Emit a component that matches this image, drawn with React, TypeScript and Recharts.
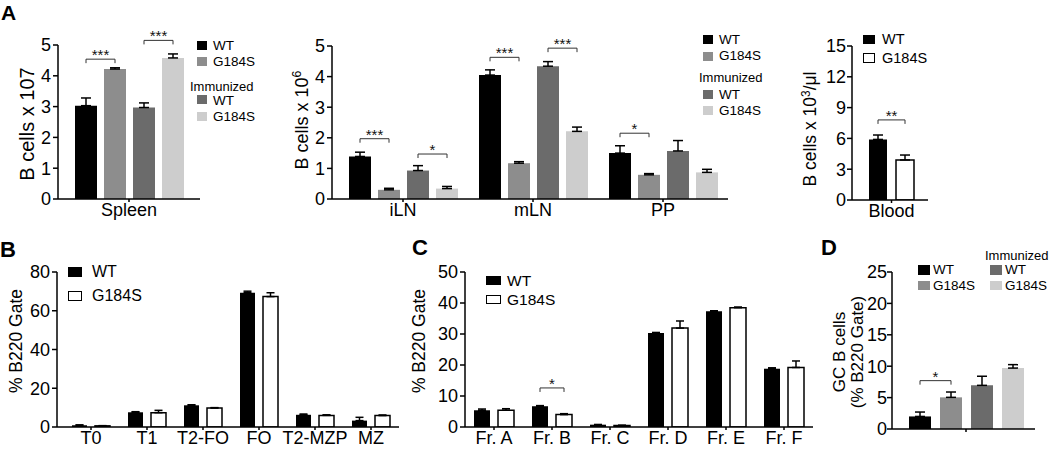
import React from 'react';
import { BarChart, Bar, XAxis, YAxis, ErrorBar, LabelList } from 'recharts';

// ---------- colours ----------
const C_WT = '#000000';
const C_G184S = '#8d8d8d';
const C_IMM_WT = '#6b6b6b';
const C_IMM_G184S = '#cdcdcd';

// ---------- Panel A (Spleen) ----------
const a1Categories = ['Spleen'];
const a1WT = [3.03];
const a1WTErr = [0.25];
const a1G184S = [4.22];
const a1G184SErr = [0.04];
const a1ImmWT = [2.97];
const a1ImmWTErr = [0.15];
const a1ImmG184S = [4.58];
const a1ImmG184SErr = [0.13];
const a1Ticks = [0, 1, 2, 3, 4, 5];
const a1Brackets = [
  { cat: 0, from: 0, to: 1, y: 4.54, text: '***' },
  { cat: 0, from: 2, to: 3, y: 5.15, text: '***' },
];

// ---------- Panel A (lymph nodes) ----------
const a2Categories = ['iLN', 'mLN', 'PP'];
const a2WT = [1.39, 4.05, 1.5];
const a2WTErr = [0.14, 0.17, 0.24];
const a2G184S = [0.3, 1.17, 0.79];
const a2G184SErr = [0.05, 0.05, 0.04];
const a2ImmWT = [0.93, 4.34, 1.57];
const a2ImmWTErr = [0.16, 0.15, 0.34];
const a2ImmG184S = [0.34, 2.21, 0.87];
const a2ImmG184SErr = [0.07, 0.14, 0.1];
const a2Ticks = [0, 1, 2, 3, 4, 5];
const a2Brackets = [
  { cat: 0, from: 0, to: 1, y: 1.97, text: '***' },
  { cat: 0, from: 2, to: 3, y: 1.47, text: '*' },
  { cat: 1, from: 0, to: 1, y: 4.63, text: '***' },
  { cat: 1, from: 2, to: 3, y: 4.93, text: '***' },
  { cat: 2, from: 0, to: 1, y: 2.15, text: '*' },
];

// ---------- Panel A (Blood) ----------
const a3Categories = ['Blood'];
const a3WT = [5.9];
const a3WTErr = [0.43];
const a3G184S = [3.9];
const a3G184SErr = [0.48];
const a3Ticks = [0, 3, 6, 9, 12, 15];
const a3Brackets = [{ cat: 0, from: 0, to: 1, y: 7.8, text: '**' }];

// ---------- Panel B ----------
const bCategories = ['T0', 'T1', 'T2-FO', 'FO', 'T2-MZP', 'MZ'];
const bWT = [0.9, 7.6, 11.2, 69.3, 6.3, 3.3];
const bWTErr = [0.2, 0.3, 0.3, 0.8, 0.4, 1.7];
const bG184S = [0.6, 7.4, 9.8, 67.3, 6.0, 5.9];
const bG184SErr = [0.1, 1.2, 0.2, 2.0, 0.3, 0.3];
const bTicks = [0, 20, 40, 60, 80];

// ---------- Panel C ----------
const cCategories = ['Fr. A', 'Fr. B', 'Fr. C', 'Fr. D', 'Fr. E', 'Fr. F'];
const cWT = [5.4, 6.7, 0.75, 30.3, 37.3, 18.8];
const cWTErr = [0.4, 0.2, 0.05, 0.2, 0.2, 0.3];
const cG184S = [5.4, 4.0, 0.5, 31.9, 38.5, 19.2];
const cG184SErr = [0.5, 0.3, 0.05, 2.3, 0.2, 2.1];
const cTicks = [0, 10, 20, 30, 40, 50];
const cBrackets = [{ cat: 1, from: 0, to: 1, y: 12.6, text: '*' }];

// ---------- Panel D ----------
const dCategories = [''];
const dWT = [2.0];
const dWTErr = [0.7];
const dG184S = [5.04];
const dG184SErr = [0.85];
const dImmWT = [6.95];
const dImmWTErr = [1.45];
const dImmG184S = [9.7];
const dImmG184SErr = [0.55];
const dTicks = [0, 5, 10, 15, 20, 25];
const dBrackets = [{ cat: 0, from: 0, to: 1, y: 7.7, text: '*' }];

const FONT = 'Arial, "Liberation Sans", Helvetica, sans-serif';

type Series = { values: number[]; errs: number[]; fill: string; stroke?: string };
type Bracket = { cat: number; from: number; to: number; y: number; text: string };

function makeBracketRenderer(k: number, brackets: Bracket[], barGap: number) {
  return (p: any) => {
    const vb = p.viewBox || p;
    const idx = p.index;
    const b = brackets.find((br) => br.from === k && br.cat === idx);
    if (!b) return null;
    const x = Number(vb.x);
    const y = Number(vb.y);
    const width = Number(vb.width);
    const height = Number(vb.height);
    const v = Number(p.value);
    const top = Math.min(y, y + height);
    const h = Math.abs(height);
    const zeroY = top + h;
    const yb = zeroY - (h * b.y) / v;
    const x1 = x + width / 2;
    const x2 = x1 + (b.to - b.from) * (width + barGap);
    return (
      <g key={`br-${k}-${idx}`}>
        <path
          d={`M${x1},${yb + 4}L${x1},${yb}L${x2},${yb}L${x2},${yb + 4}`}
          fill="none"
          stroke="#333"
          strokeWidth={1}
        />
        <text x={(x1 + x2) / 2} y={yb + 1} textAnchor="middle" fontSize={15} fill="#111" fontFamily={FONT}>
          {b.text}
        </text>
      </g>
    );
  };
}

function Panel(props: {
  px: number;
  py: number;
  pw: number;
  ph: number;
  categories: string[];
  series: Series[];
  yMax: number;
  ticks: number[];
  barSize: number;
  barGap: number;
  padLeft: number;
  capW: number;
  brackets: Bracket[];
  yTickGap?: number;
}) {
  const { px, py, pw, ph, categories, series, yMax, ticks, barSize, barGap, padLeft, capW, brackets } = props;
  const yTickGap = props.yTickGap ?? 2;
  const YW = 50;
  const T = 30;
  const R = 4;
  const XH = 30;
  const B = 2;
  const data = categories.map((c, i) => {
    const row: any = { name: c };
    series.forEach((s, k) => {
      row['v' + k] = s.values[i];
      row['e' + k] = [0, s.errs[i]];
    });
    return row;
  });
  return (
    <div style={{ position: 'absolute', left: px - YW, top: py - T }}>
      <BarChart
        width={YW + pw + R}
        height={T + ph + XH + B}
        data={data}
        margin={{ top: T, right: R, bottom: B, left: 0 }}
        barGap={barGap}
        barSize={barSize}
        style={{ overflow: 'visible' }}
      >
        <XAxis
          dataKey="name"
          interval={0}
          height={XH}
          tickSize={3}
          tickMargin={1}
          tickLine={{ stroke: '#000', strokeWidth: 1.5 }}
          axisLine={{ stroke: '#000', strokeWidth: 1.5 }}
          tick={{ fill: '#000', fontSize: 18, fontFamily: FONT }}
          padding={{ left: padLeft, right: 0 }}
        />
        <YAxis
          width={YW}
          domain={[0, yMax]}
          ticks={ticks}
          interval={0}
          allowDataOverflow
          tickSize={5}
          tickMargin={yTickGap}
          tickLine={{ stroke: '#000', strokeWidth: 1.5 }}
          axisLine={{ stroke: '#000', strokeWidth: 1.5 }}
          tick={{ fill: '#000', fontSize: 18, fontFamily: FONT }}
        />
        {series.map((s, k) => (
          <Bar
            key={k}
            dataKey={'v' + k}
            fill={s.fill}
            stroke={s.stroke || 'none'}
            strokeWidth={s.stroke ? 1.5 : 0}
            isAnimationActive={false}
          >
            <ErrorBar dataKey={'e' + k} width={capW} stroke="#000" strokeWidth={1.5} direction="y" />
            {brackets.some((b) => b.from === k) ? (
              <LabelList dataKey={'v' + k} content={makeBracketRenderer(k, brackets, barGap)} />
            ) : null}
          </Bar>
        ))}
      </BarChart>
    </div>
  );
}

function Swatch(props: { x: number; y: number; w: number; h: number; fill: string; border?: boolean }) {
  const { x, y, w, h, fill, border } = props;
  return (
    <div
      style={{
        position: 'absolute',
        left: x,
        top: y,
        width: w,
        height: h,
        background: fill,
        boxSizing: 'border-box',
        border: border ? '1.5px solid #000' : 'none',
      }}
    />
  );
}

function Txt(props: { x: number; cy: number; fs: number; children: React.ReactNode; bold?: boolean }) {
  const { x, cy, fs, children, bold } = props;
  return (
    <div
      style={{
        position: 'absolute',
        left: x,
        top: cy - fs / 2,
        fontSize: fs,
        lineHeight: `${fs}px`,
        whiteSpace: 'nowrap',
        fontWeight: bold ? 'bold' : 'normal',
        color: '#000',
      }}
    >
      {children}
    </div>
  );
}

function VLabel(props: { cx: number; cy: number; fs: number; children: React.ReactNode; lh?: number }) {
  const { cx, cy, fs, children, lh } = props;
  return (
    <div
      style={{
        position: 'absolute',
        left: cx,
        top: cy,
        transform: 'translate(-50%, -50%) rotate(-90deg)',
        fontSize: fs,
        lineHeight: `${lh || fs}px`,
        whiteSpace: 'nowrap',
        textAlign: 'center',
        color: '#000',
      }}
    >
      {children}
    </div>
  );
}

const supStyle: React.CSSProperties = { fontSize: '0.68em', verticalAlign: '0.55em', lineHeight: 0 };

export default function App() {
  return (
    <div
      style={{
        position: 'absolute',
        left: 0,
        top: 0,
        width: 1050,
        height: 449,
        background: '#fff',
        fontFamily: FONT,
        overflow: 'hidden',
      }}
    >
      {/* Panel letters */}
      <Txt x={1} cy={12.5} fs={21} bold>A</Txt>
      <Txt x={0} cy={250} fs={22} bold>B</Txt>
      <Txt x={412} cy={248} fs={22} bold>C</Txt>
      <Txt x={821} cy={248} fs={22} bold>D</Txt>

      {/* A: Spleen */}
      <Panel
        px={58}
        py={45}
        pw={142}
        ph={154}
        categories={a1Categories}
        series={[
          { values: a1WT, errs: a1WTErr, fill: C_WT },
          { values: a1G184S, errs: a1G184SErr, fill: C_G184S },
          { values: a1ImmWT, errs: a1ImmWTErr, fill: C_IMM_WT },
          { values: a1ImmG184S, errs: a1ImmG184SErr, fill: C_IMM_G184S },
        ]}
        yMax={5}
        ticks={a1Ticks}
        barSize={22}
        barGap={7}
        padLeft={0}
        capW={5}
        brackets={a1Brackets}
      />
      <VLabel cx={27} cy={124} fs={20}>B cells x 107</VLabel>
      <Swatch x={197} y={41} w={10} h={9} fill={C_WT} />
      <Txt x={213} cy={46} fs={13.5}>WT</Txt>
      <Swatch x={197} y={57} w={10} h={9} fill={C_G184S} />
      <Txt x={213} cy={62} fs={13.5}>G184S</Txt>
      <Txt x={190} cy={86} fs={13}>Immunized</Txt>
      <Swatch x={197} y={95} w={10} h={9} fill={C_IMM_WT} />
      <Txt x={213} cy={101} fs={13.5}>WT</Txt>
      <Swatch x={197} y={112} w={10} h={9} fill={C_IMM_G184S} />
      <Txt x={213} cy={117} fs={13.5}>G184S</Txt>

      {/* A: lymph nodes */}
      <Panel
        px={332}
        py={46}
        pw={396}
        ph={153}
        categories={a2Categories}
        series={[
          { values: a2WT, errs: a2WTErr, fill: C_WT },
          { values: a2G184S, errs: a2G184SErr, fill: C_G184S },
          { values: a2ImmWT, errs: a2ImmWTErr, fill: C_IMM_WT },
          { values: a2ImmG184S, errs: a2ImmG184SErr, fill: C_IMM_G184S },
        ]}
        yMax={5}
        ticks={a2Ticks}
        barSize={22}
        barGap={7}
        padLeft={6}
        capW={5}
        brackets={a2Brackets}
      />
      <VLabel cx={302} cy={120} fs={18}>
        B cells x 10<span style={supStyle}>6</span>
      </VLabel>
      <Swatch x={703} y={35} w={10} h={9} fill={C_WT} />
      <Txt x={719} cy={39.5} fs={13.5}>WT</Txt>
      <Swatch x={703} y={52} w={10} h={9} fill={C_G184S} />
      <Txt x={719} cy={56} fs={13.5}>G184S</Txt>
      <Txt x={699} cy={77} fs={13}>Immunized</Txt>
      <Swatch x={703} y={90} w={10} h={9} fill={C_IMM_WT} />
      <Txt x={719} cy={95} fs={13.5}>WT</Txt>
      <Swatch x={703} y={106} w={10} h={9} fill={C_IMM_G184S} />
      <Txt x={719} cy={110.5} fs={13.5}>G184S</Txt>

      {/* A: Blood */}
      <Panel
        px={852}
        py={46}
        pw={76}
        ph={154}
        categories={a3Categories}
        series={[
          { values: a3WT, errs: a3WTErr, fill: C_WT },
          { values: a3G184S, errs: a3G184SErr, fill: '#ffffff', stroke: '#000' },
        ]}
        yMax={15}
        ticks={a3Ticks}
        barSize={18}
        barGap={9}
        padLeft={3}
        capW={5}
        brackets={a3Brackets}
        yTickGap={1}
      />
      <VLabel cx={811} cy={129} fs={17.5}>
        B cells x 10<span style={supStyle}>3</span>/μl
      </VLabel>
      <Swatch x={863} y={35} w={12} h={9} fill={C_WT} />
      <Txt x={882} cy={39} fs={14.5}>WT</Txt>
      <Swatch x={863} y={53} w={12} h={10} fill="#fff" border />
      <Txt x={882} cy={58} fs={14.5}>G184S</Txt>

      {/* B */}
      <Panel
        px={57}
        py={272}
        pw={342}
        ph={155}
        categories={bCategories}
        series={[
          { values: bWT, errs: bWTErr, fill: C_WT },
          { values: bG184S, errs: bG184SErr, fill: '#ffffff', stroke: '#000' },
        ]}
        yMax={80}
        ticks={bTicks}
        barSize={15}
        barGap={8}
        padLeft={6}
        capW={4}
        brackets={[]}
      />
      <VLabel cx={17} cy={341} fs={17.5}>% B220 Gate</VLabel>
      <Swatch x={68} y={267} w={14} h={10} fill={C_WT} />
      <Txt x={92} cy={272} fs={16}>WT</Txt>
      <Swatch x={68} y={291} w={14} h={10} fill="#fff" border />
      <Txt x={92} cy={296} fs={16}>G184S</Txt>

      {/* C */}
      <Panel
        px={465}
        py={272}
        pw={348}
        ph={155}
        categories={cCategories}
        series={[
          { values: cWT, errs: cWTErr, fill: C_WT },
          { values: cG184S, errs: cG184SErr, fill: '#ffffff', stroke: '#000' },
        ]}
        yMax={50}
        ticks={cTicks}
        barSize={16}
        barGap={8}
        padLeft={0}
        capW={4}
        brackets={cBrackets}
      />
      <VLabel cx={420} cy={341} fs={17.5}>% B220 Gate</VLabel>
      <Swatch x={486} y={276} w={15} h={9} fill={C_WT} />
      <Txt x={507} cy={280.5} fs={15.5}>WT</Txt>
      <Swatch x={486} y={295} w={15} h={9} fill="#fff" border />
      <Txt x={507} cy={299.5} fs={15.5}>G184S</Txt>

      {/* D */}
      <Panel
        px={892}
        py={272}
        pw={143}
        ph={157}
        categories={dCategories}
        series={[
          { values: dWT, errs: dWTErr, fill: C_WT },
          { values: dG184S, errs: dG184SErr, fill: C_G184S },
          { values: dImmWT, errs: dImmWTErr, fill: C_IMM_WT },
          { values: dImmG184S, errs: dImmG184SErr, fill: C_IMM_G184S },
        ]}
        yMax={25}
        ticks={dTicks}
        barSize={22}
        barGap={9}
        padLeft={5}
        capW={5}
        brackets={dBrackets}
        yTickGap={0}
      />
      <VLabel cx={849} cy={352} fs={17} lh={18}>
        GC B cells
        <br />
        (% B220 Gate)
      </VLabel>
      <Swatch x={918} y={265} w={12} h={10} fill={C_WT} />
      <Txt x={933} cy={270} fs={13.5}>WT</Txt>
      <Swatch x={918} y={281} w={12} h={9} fill={C_G184S} />
      <Txt x={933} cy={286} fs={13.5}>G184S</Txt>
      <Txt x={985} cy={255.5} fs={13}>Immunized</Txt>
      <Swatch x={990} y={265} w={12} h={10} fill={C_IMM_WT} />
      <Txt x={1005} cy={270} fs={13.5}>WT</Txt>
      <Swatch x={990} y={281} w={12} h={9} fill={C_IMM_G184S} />
      <Txt x={1005} cy={286} fs={13.5}>G184S</Txt>
    </div>
  );
}
